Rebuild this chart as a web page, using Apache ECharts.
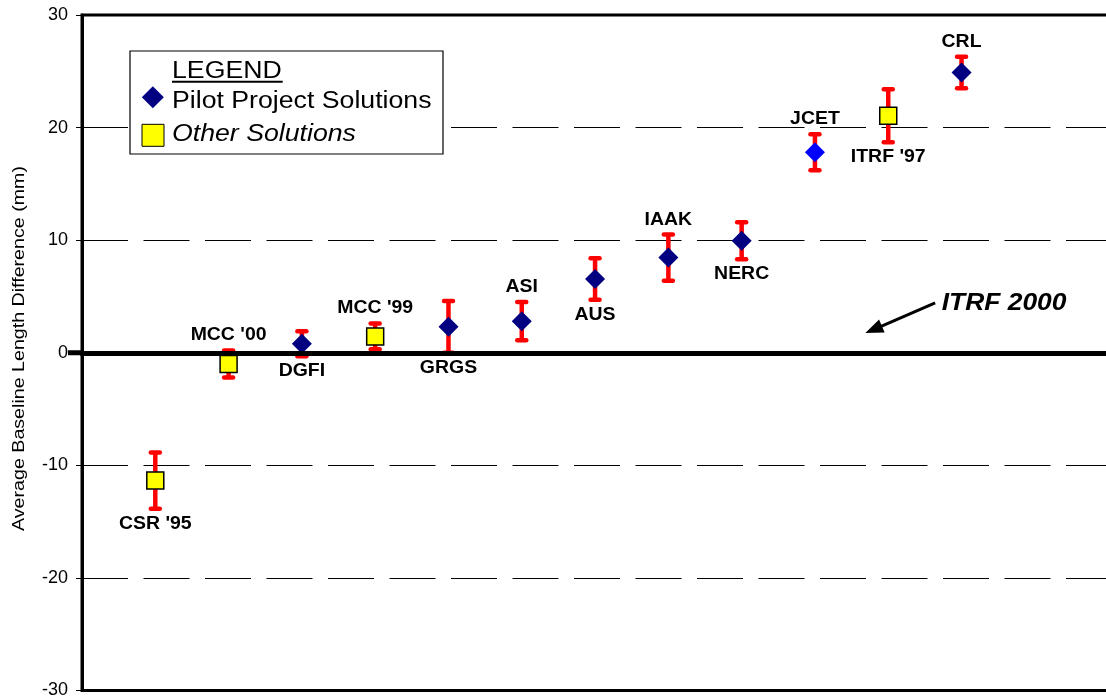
<!DOCTYPE html>
<html><head><meta charset="utf-8">
<script src="https://cdn.jsdelivr.net/npm/echarts@6/dist/echarts.min.js"></script>
<style>html,body{margin:0;padding:0;background:#fff}#c{width:1106px;height:700px}</style>
</head><body><div id="c"></div>
<script>
// ---- data ----
const names = ["CSR '95","MCC '00","DGFI","MCC '99","GRGS","ASI","AUS","IAAK","NERC","JCET","ITRF '97","CRL"];
const values = [-11.35, -1.0, 0.8, 1.45, 2.3, 2.8, 6.55, 8.45, 9.95, 17.8, 21.05, 24.9];
const errors = [2.5, 1.2, 1.1, 1.15, 2.3, 1.7, 1.85, 2.05, 1.65, 1.6, 2.35, 1.4];
const groups = ['other','other','pilot','other','pilot','pilot','pilot','pilot','pilot','pilot','other','pilot'];
const labelSides = ['bottom','top','bottom','top','bottom','top','bottom','top','bottom','top','bottom','top'];
const highlighted = ['JCET'];
const yTicks = {min: -30, max: 30, interval: 10};
const xRange = {min: 0, max: 14.08};
const yAxisTitle = 'Average Baseline Length Difference (mm)';
const legendTitle = 'LEGEND';
const legendItems = ['Pilot Project Solutions', 'Other Solutions'];
const annotationText = 'ITRF 2000';
const annotationFrom = [11.64, 4.42];
const annotationTo = [10.80, 2.06];
const annotationTextAt = [11.73, 4.36];

// ---- chart ----
const FONT = '"Liberation Sans", Arial, sans-serif';
const chart = echarts.init(document.getElementById('c'), null, {renderer: 'canvas'});

const errData = names.map((n, i) => [i + 1, values[i], errors[i]]);
const idx = names.map((n, i) => i);

function renderErr(params, api) {
  const i = params.dataIndex;
  const x = api.value(0), y = api.value(1), e = api.value(2);
  const t = api.coord([x, y + e]);
  const b = api.coord([x, y - e]);
  const red = '#FF0000';
  const cap = 4.5;
  const ly = labelSides[i] === 'top' ? t[1] - 15 : b[1] + 15;
  return {
    type: 'group',
    children: [
      {type: 'line', shape: {x1: t[0], y1: t[1], x2: b[0], y2: b[1]}, style: {stroke: red, lineWidth: 4.5}},
      {type: 'line', shape: {x1: t[0] - cap, y1: t[1], x2: t[0] + cap, y2: t[1]}, style: {stroke: red, lineWidth: 4.5, lineCap: 'round'}},
      {type: 'line', shape: {x1: b[0] - cap, y1: b[1], x2: b[0] + cap, y2: b[1]}, style: {stroke: red, lineWidth: 4.5, lineCap: 'round'}},
      {type: 'text', x: t[0], y: ly, scaleX: 1.08,
        style: {text: names[i], x: 0, y: 0, align: 'center', verticalAlign: 'middle',
          font: 'bold 18px ' + FONT, fill: '#000'}}
    ]
  };
}

const option = {
  animation: false,
  backgroundColor: '#fff',
  grid: {left: 82, top: 15, width: 1032, height: 675.5, show: true, borderColor: '#000', borderWidth: 3,
    backgroundColor: 'transparent', outerBoundsMode: 'none', containLabel: false},
  xAxis: {
    type: 'value', min: xRange.min, max: xRange.max, z: 10,
    axisLine: {show: true, onZero: true, lineStyle: {color: '#000', width: 5}},
    axisTick: {show: false}, axisLabel: {show: false}, splitLine: {show: false}
  },
  yAxis: {
    type: 'value', min: yTicks.min, max: yTicks.max, interval: yTicks.interval,
    axisLine: {show: true, lineStyle: {color: '#000', width: 3}},
    axisTick: {show: true, inside: false, length: 6, lineStyle: {color: '#000', width: 1}},
    axisLabel: {show: true, color: '#000', fontSize: 18, fontFamily: FONT, margin: 14},
    splitLine: {show: true, lineStyle: {color: '#000', width: 1, type: [46, 15.5]}}
  },
  series: [
    {type: 'custom', name: 'err', z: 2, renderItem: renderErr, data: errData, silent: true,
      encode: {x: 0, y: 1}},
    {type: 'scatter', name: legendItems[0], z: 4, symbol: 'diamond', symbolSize: 20, silent: true,
      itemStyle: {color: '#000080', opacity: 1},
      data: idx.filter(i => groups[i] === 'pilot').map(i => ({
        value: [i + 1, values[i]],
        itemStyle: highlighted.includes(names[i]) ? {color: '#0000FF', opacity: 1} : undefined
      }))},
    {type: 'scatter', name: legendItems[1], z: 4, symbol: 'rect', symbolSize: 17, silent: true,
      itemStyle: {color: '#FFFF00', borderColor: '#000', borderWidth: 1.5, opacity: 1},
      data: idx.filter(i => groups[i] === 'other').map(i => [i + 1, values[i]]),
      markLine: {
        silent: true, symbol: ['none', 'triangle'], symbolSize: [14, 18], animation: false,
        lineStyle: {color: '#000', width: 3, type: 'solid', opacity: 1},
        itemStyle: {color: '#000'},
        label: {show: false}, emphasis: {disabled: true},
        data: [[{coord: annotationFrom}, {coord: annotationTo}]]
      }}
  ]
};
chart.setOption(option);

const p0 = chart.convertToPixel({gridIndex: 0}, [xRange.min, 0]);
const pt = chart.convertToPixel({gridIndex: 0}, annotationTextAt);

chart.setOption({
  graphic: [
    {type: 'line', z: 20, shape: {x1: p0[0] - 14, y1: p0[1], x2: p0[0], y2: p0[1]}, style: {stroke: '#000', lineWidth: 5}},
    {type: 'text', x: 19, y: 348.5, rotation: Math.PI / 2, scaleX: 1.17, z: 20,
      style: {text: yAxisTitle, x: 0, y: 0, align: 'center', verticalAlign: 'middle', font: '16.8px ' + FONT, fill: '#000'}},
    {type: 'rect', z: 20, shape: {x: 130, y: 51, width: 313, height: 103}, style: {fill: '#fff', stroke: '#000', lineWidth: 1.2}},
    {type: 'text', x: 172, y: 71.7, scaleX: 1.16, z: 21,
      style: {text: legendTitle, x: 0, y: 0, align: 'left', verticalAlign: 'middle', font: '23px ' + FONT, fill: '#000'}},
    {type: 'line', z: 21, shape: {x1: 172, y1: 81.8, x2: 282.7, y2: 81.8}, style: {stroke: '#000', lineWidth: 2}},
    {type: 'polygon', z: 21, shape: {points: [[152.8, 86.3], [163.8, 97.3], [152.8, 108.3], [141.8, 97.3]]}, style: {fill: '#000080'}},
    {type: 'text', x: 172, y: 101.7, scaleX: 1.16, z: 21,
      style: {text: legendItems[0], x: 0, y: 0, align: 'left', verticalAlign: 'middle', font: '23px ' + FONT, fill: '#000'}},
    {type: 'rect', z: 21, shape: {x: 142, y: 124.3, width: 22, height: 22}, style: {fill: '#FFFF00', stroke: '#000', lineWidth: 1}},
    {type: 'text', x: 172, y: 134.3, scaleX: 1.16, z: 21,
      style: {text: legendItems[1], x: 0, y: 0, align: 'left', verticalAlign: 'middle', font: 'italic 23px ' + FONT, fill: '#000'}},
    {type: 'text', x: pt[0], y: pt[1], scaleX: 1.1, z: 21,
      style: {text: annotationText, x: 0, y: 0, align: 'left', verticalAlign: 'middle', font: 'italic bold 24px ' + FONT, fill: '#000'}}
  ]
});
</script>
</body></html>
